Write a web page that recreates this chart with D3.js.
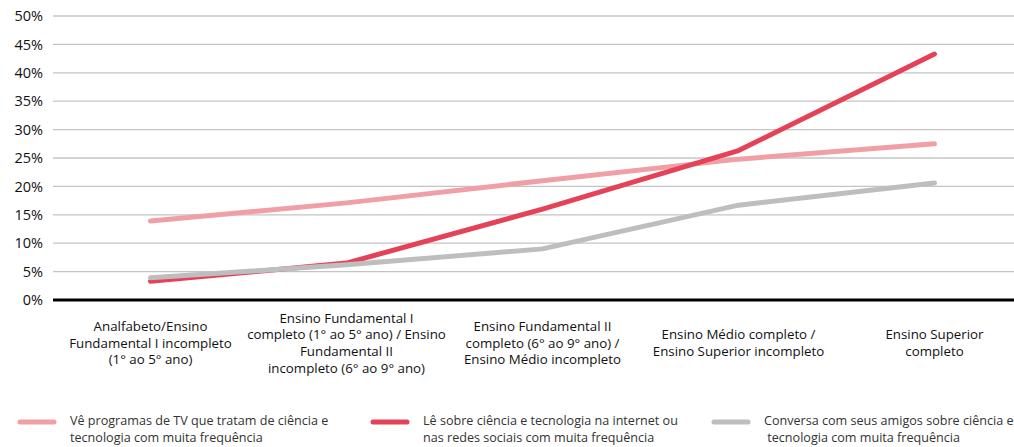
<!DOCTYPE html>
<html><head><meta charset="utf-8">
<script src="https://cdn.jsdelivr.net/npm/d3@7"></script>
<style>body{margin:0;background:#fff}svg{display:block;font-family:"Open Sans",sans-serif}</style>
</head><body><svg id="c" width="1014" height="447"></svg>
<script>
const categories = [
  ["Analfabeto/Ensino","Fundamental I incompleto","(1° ao 5° ano)"],
  ["Ensino Fundamental I","completo (1° ao 5° ano) / Ensino","Fundamental II","incompleto (6° ao 9° ano)"],
  ["Ensino Fundamental II","completo (6° ao 9° ano) /","Ensino Médio incompleto"],
  ["Ensino Médio completo /","Ensino Superior incompleto"],
  ["Ensino Superior","completo"]
];
const tvValues = [13.9, 17.1, 21.0, 24.8, 27.5];
const internetValues = [3.3, 6.5, 16.0, 26.3, 43.3];
const friendsValues = [3.9, 6.2, 9.0, 16.7, 20.6];
const yTicks = [0,5,10,15,20,25,30,35,40,45,50];
const seriesNames = [
  ["Vê programas de TV que tratam de ciência e","tecnologia com muita frequência"],
  ["Lê sobre ciência e tecnologia na internet ou","nas redes sociais com muita frequência"],
  ["Conversa com seus amigos sobre ciência e","\u00a0tecnologia com muita frequência"]
];
const colors = ["#F0A0A4","#E64257","#BEBEBE"];

const svg = d3.select("#c");
const x = d3.scaleBand().domain(d3.range(categories.length)).range([52.5, 1032.5]);
const y = d3.scaleLinear().domain([0,50]).range([300,16]);

// grid
svg.append("g").selectAll("line").data(yTicks.filter(d=>d>0)).join("line")
  .attr("x1",53).attr("x2",1014).attr("y1",d=>y(d)).attr("y2",d=>y(d))
  .attr("stroke","#c4c4c4").attr("stroke-width",1.3);
// y axis labels
const ya = svg.append("g")
  .call(d3.axisLeft(y).tickValues(yTicks).tickSize(0).tickFormat(d=>d+"%"));
ya.select(".domain").remove();
ya.selectAll("text").attr("x",43).attr("font-size",14.5).attr("fill","#111").attr("font-family","Open Sans, sans-serif");
// baseline
svg.append("line").attr("x1",53).attr("x2",1014).attr("y1",y(0)).attr("y2",y(0)).attr("stroke","#000").attr("stroke-width",3);

// x labels
const lh = 16.6;
categories.forEach((lines,i)=>{
  const cx = x(i)+x.bandwidth()/2;
  const t = svg.append("text").attr("text-anchor","middle").attr("font-size",13.3).attr("fill","#111");
  const y0 = 343 - (lines.length-1)*lh/2;
  lines.forEach((l,j)=>t.append("tspan").attr("x",cx).attr("y",y0+j*lh).attr("dy","0.35em").text(l));
});

// lines
const line = d3.line().x((d,i)=>x(i)+x.bandwidth()/2).y(d=>y(d));
[tvValues, internetValues, friendsValues].forEach((vals,k)=>{
  svg.append("path").datum(vals).attr("d",line).attr("fill","none")
    .attr("stroke",colors[k]).attr("stroke-width",5).attr("stroke-linecap","round").attr("stroke-linejoin","round");
});

// legend
const legX = [[20,70],[373,423],[714,764]];
seriesNames.forEach((lines,k)=>{
  svg.append("line").attr("x1",legX[k][0]).attr("x2",legX[k][0]+34).attr("y1",422).attr("y2",422)
    .attr("stroke",colors[k]).attr("stroke-width",5).attr("stroke-linecap","round");
  const t = svg.append("text").attr("font-size",12.6).attr("fill","#333");
  lines.forEach((l,j)=>t.append("tspan").attr("x",legX[k][1]).attr("y",421+j*17).attr("dy","0.35em").text(l));
});
</script></body></html>
